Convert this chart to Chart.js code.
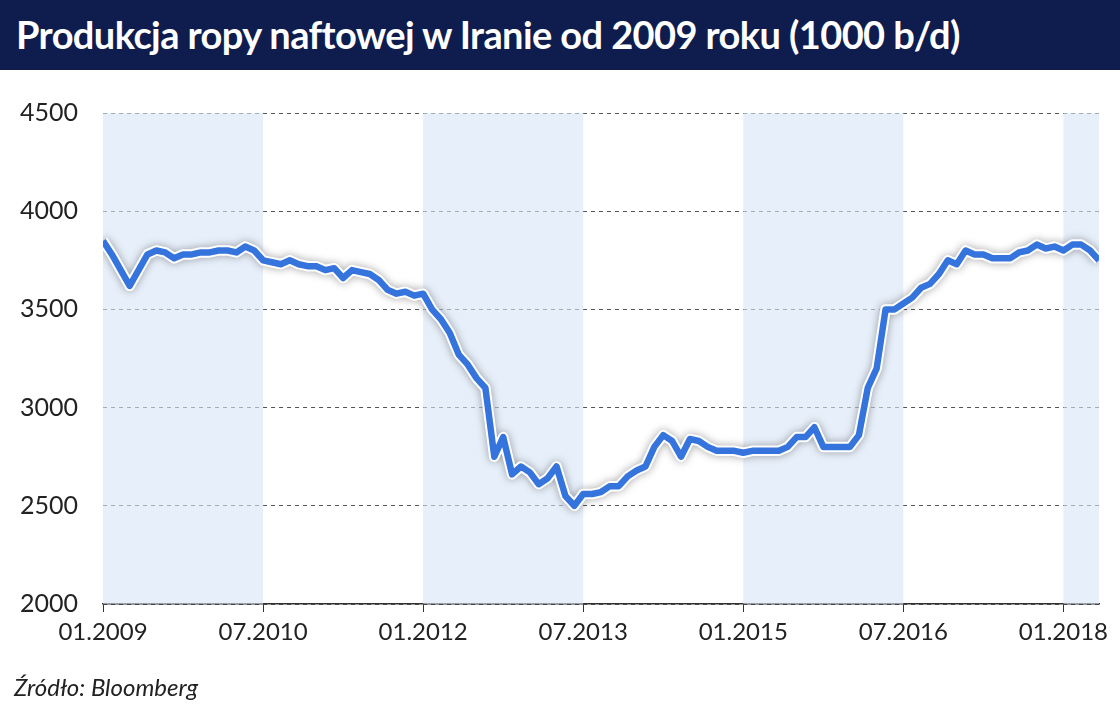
<!DOCTYPE html>
<html><head><meta charset="utf-8">
<script src="https://cdn.jsdelivr.net/npm/chart.js@4"></script>
<style>
body{margin:0;width:1120px;height:723px;overflow:hidden;background:#fff;font-family:Lato,sans-serif}
#title{height:70px;background:#0e1d4e;color:#fff;font-weight:bold;font-size:38px;line-height:68px;padding-left:16px;letter-spacing:-0.6px}
#wrap{position:absolute;top:70px;left:0;width:1120px;height:653px}
#src{position:absolute;left:14px;top:672px;font-style:italic;font-size:24px;color:#222}
</style></head><body>
<div id="title">Produkcja ropy naftowej w Iranie od 2009 roku (1000 b/d)</div>
<div id="wrap"><canvas id="c" width="1120" height="653"></canvas></div>
<div id="src">Źródło: Bloomberg</div>
<script>
const tickLabels=['01.2009','07.2010','01.2012','07.2013','01.2015','07.2016','01.2018'];
const tickPos=[0,18,36,54,72,90,108];
const bands=[[0,18],[36,54],[72,90],[108,112]];
const production=[
3850,3780,3700,3620,3700,3780,3800,3790,3760,3780,3780,3790,
3790,3800,3800,3790,3820,3800,3750,3740,3730,3750,3730,3720,
3720,3700,3710,3660,3700,3690,3680,3650,3600,3580,3590,3570,
3580,3500,3450,3380,3270,3220,3150,3100,2750,2850,2660,2700,
2670,2610,2640,2700,2550,2500,2560,2560,2570,2600,2600,2650,
2680,2700,2800,2860,2830,2750,2840,2830,2800,2780,2780,2780,
2770,2780,2780,2780,2780,2800,2850,2850,2900,2800,2800,2800,
2800,2860,3100,3200,3500,3500,3530,3560,3610,3630,3680,3750,
3730,3800,3780,3780,3760,3760,3760,3790,3800,3830,3810,3820,
3800,3830,3830,3800,3750];
const pts=production.map((v,i)=>({x:i,y:v}));
const bandPlugin={id:'bands',beforeDatasetsDraw(ch){const {ctx,chartArea:a,scales:{x}}=ch;ctx.save();ctx.fillStyle='rgba(215,228,246,0.6)';
bands.forEach(b=>{const x0=x.getPixelForValue(b[0]),x1=x.getPixelForValue(b[1]);ctx.fillRect(x0,a.top,x1-x0,a.bottom-a.top);});ctx.restore();},
beforeDatasetDraw(ch,args){if(args.index===1){ch.ctx.save();ch.ctx.shadowColor='rgba(0,0,0,0.35)';ch.ctx.shadowBlur=8;}},
afterDatasetDraw(ch,args){if(args.index===1)ch.ctx.restore();}};
new Chart(document.getElementById('c'),{type:'line',
data:{datasets:[
{data:pts,borderColor:'#3474dc',borderWidth:6.5,pointRadius:0,tension:0,borderJoinStyle:'round'},
{data:pts,borderColor:'#fff',borderWidth:10.5,pointRadius:0,tension:0,borderJoinStyle:'round'}]},
options:{responsive:false,animation:false,devicePixelRatio:1,
layout:{padding:{top:43,right:21,bottom:0,left:0}},
plugins:{legend:{display:false},tooltip:{enabled:false}},
scales:{
x:{type:'linear',min:0,max:112,afterFit(s){s.height=119;},
 afterBuildTicks(s){s.ticks=tickPos.map(v=>({value:v}));},
 ticks:{autoSkip:false,maxRotation:0,color:'#222',font:{family:'Lato',size:24},padding:6,callback:(v)=>tickLabels[tickPos.indexOf(v)]},
 grid:{display:true,drawOnChartArea:false,drawTicks:true,tickLength:8,color:'#333'},border:{color:'#333',width:1.5}},
y:{min:2000,max:4500,afterFit(s){s.width=103;},
 ticks:{stepSize:500,color:'#222',font:{family:'Lato',size:25},padding:25,callback:v=>String(v)},
 grid:{color:'#555',drawTicks:false,lineWidth:1},border:{display:false,dash:[4,4]}}
}},plugins:[bandPlugin]});
</script>
</body></html>
